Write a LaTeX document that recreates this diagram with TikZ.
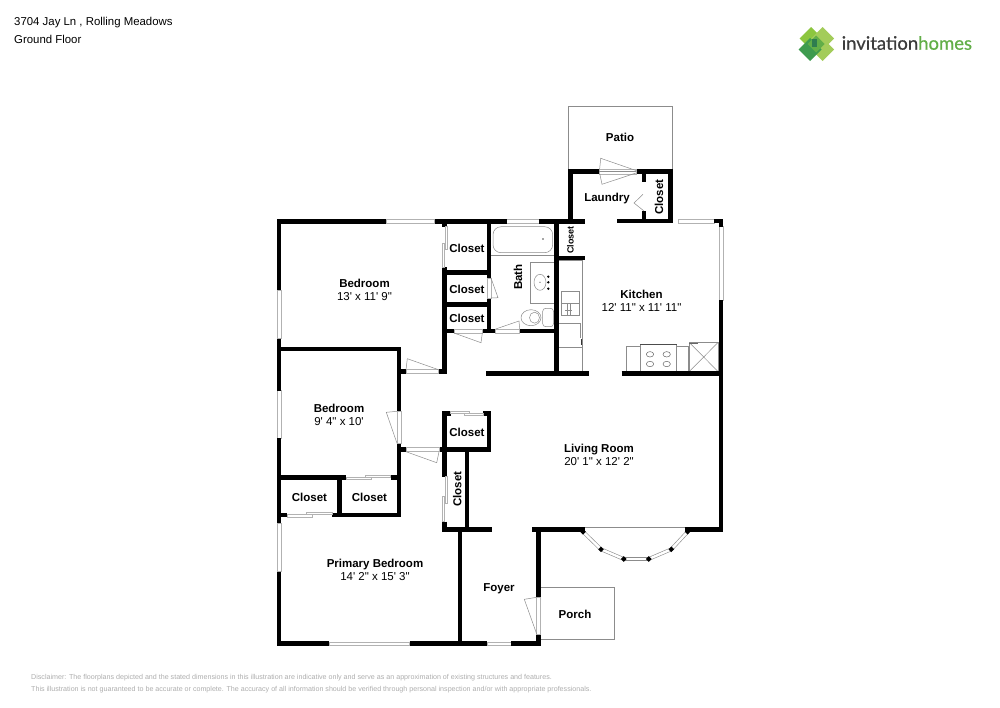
\documentclass[tikz,border=0pt]{standalone}
\usepackage{fontspec}
\setmainfont{Liberation Sans}[Ligatures=TeXOff]
\newfontfamily\logofont{Lato}[RawFeature={embolden=0.5}]
\usepackage{tikz}
\definecolor{thinline}{gray}{0.55}
\definecolor{glassline}{gray}{0.7}
\definecolor{notegrey}{gray}{0.68}
\definecolor{limeleaf}{HTML}{8CC63F}
\definecolor{limepale}{HTML}{A3CC5A}
\definecolor{darkleaf}{HTML}{3E9B4F}
\definecolor{midleaf}{HTML}{62AE48}
\definecolor{coreleaf}{HTML}{2F7D4F}
\definecolor{logogrey}{HTML}{3C3C3C}
\tikzstyle{wall} = [line width=4.6pt, black, line join=miter]
\tikzstyle{thinwall} = [line width=.6pt, draw=thinline]
\tikzstyle{glass} = [line width=.6pt, draw=glassline, fill=white]
\tikzstyle{leaf} = [line width=.5pt, draw=thinline]
\tikzstyle{fixture} = [line width=.5pt, draw=thinline, fill=white]
\tikzstyle{baypane} = [line width=.6pt, draw=thinline, double=white, double distance=2.4pt]
\tikzstyle{roomlabel} = [font=\fontsize{11.5}{12.8}\selectfont, align=center, inner sep=0pt]
\tikzstyle{tinylabel} = [font=\fontsize{11.5}{13}\selectfont\bfseries, inner sep=0pt]
\tikzstyle{sidelabel} = [tinylabel, rotate=90]
\tikzstyle{headline} = [font=\fontsize{11.4}{13}\selectfont, anchor=base west, inner sep=0pt]
\tikzstyle{noteline} = [font=\fontsize{7.12}{8}\selectfont, text=notegrey, anchor=west, inner sep=0pt]

\begin{document}
\begin{tikzpicture}[x=1pt, y=-1pt]
\useasboundingbox (0,0) rectangle (1000,707);

% patio and porch
\draw [thinwall] (568.3,169.7) -- (568.3,106.7) -- (672.3,106.7) -- (672.3,169.7);
\draw [thinwall] (540.7,587.3) -- (614.7,587.3) -- (614.7,639.3) -- (540.7,639.3);

% fixtures
\draw [fixture, rounded corners=8pt] (493,226.7) rectangle (552.7,252.7);
\fill [black!70] (543,239) circle (.8pt);
\draw [leaf] (491,255) -- (554,255);
\draw [fixture] (530,262.7) rectangle (554,303.3);
\draw [leaf] (540,282.3) ellipse (6pt and 8pt);
\foreach \py in {276.7,282.3,288.7}
  \fill [black] (548.3,\py) circle (1.3pt);
\fill [black!70] (540,282.3) circle (.6pt);
\draw [fixture, rounded corners=3pt] (542.7,308.3) rectangle (553.5,326.7);
\draw [fixture] (531,317.7) ellipse (10pt and 8pt);
\draw [leaf] (534.5,317.7) ellipse (5pt and 5.5pt);

\draw [leaf] (558.7,260) -- (582.3,260) -- (582.3,371.5);
\draw [leaf] (558.7,323.3) -- (580.7,323.3) -- (580.7,338);
\draw [leaf] (558.7,347.3) -- (582.3,347.3);
\draw [fixture] (561.7,291.3) rectangle (579.7,315.7);
\draw [leaf] (561.7,303.3) -- (579.7,303.3);
\draw [leaf] (567,303.3) -- (567,315.7) (570.7,303.3) -- (570.7,315.7) (565,310) -- (572,310);
\fill [black!80] (580.6,338.5) rectangle (582.3,344.5);

\draw [fixture] (626.7,346.7) rectangle (688,371.5);
\draw [fixture] (640,344) rectangle (676.7,371.5);
\draw [line width=.8pt, black!70] (640,344.3) -- (676.7,344.3);
\foreach \px in {650,666.7}
  \foreach \py in {354.3,364}
    \draw [leaf, black!60] (\px,\py) ellipse (3.7pt and 2.7pt);
\draw [fixture] (689.3,342.5) rectangle (718,371.5);
\draw [leaf] (689.3,342.5) -- (718,371.5) (718,342.5) -- (689.3,371.5);
\draw [line width=.8pt, black!60] (689.3,343) -- (698,343);

% windows
\draw [glass] (386,219.7) rectangle (434.7,223.3);
\draw [glass] (506.7,219.7) rectangle (539.3,223.3);
\draw [glass] (678.3,219.2) rectangle (714.3,222.8);
\draw [glass] (719.2,226) rectangle (722.8,300);
\draw [glass] (277.2,290) rectangle (280.8,338.5);
\draw [glass] (277.2,390.7) rectangle (280.8,438.3);
\draw [glass] (277.2,523.3) rectangle (280.8,571.7);
\draw [glass] (329,641.9) rectangle (409.5,645.5);
\draw [glass] (487,641.9) rectangle (511.3,645.5);
\draw [leaf] (585,527.5) -- (685.3,527.5);

% bay window
\draw [baypane] (583,531.7) -- (601,549.3);
\draw [baypane] (601,549.3) -- (623.7,559);
\draw [baypane] (623.7,559) -- (648.7,559);
\draw [baypane] (648.7,559) -- (671.3,549.3);
\draw [baypane] (671.3,549.3) -- (687.7,531.7);
\foreach \px/\py in {583/531.7, 601/549.3, 623.7/559, 648.7/559, 671.3/549.3, 687.7/531.7}
  \fill [shift={(\px,\py)}] (-2.8,0) -- (0,-2.8) -- (2.8,0) -- (0,2.8) -- cycle;

% walls
\draw [wall] (279,290) -- (279,221.5) -- (386,221.5);
\draw [wall] (434.7,221.5) -- (506.7,221.5);
\draw [wall] (539.3,221.5) -- (585,221.5);
\draw [wall] (279,338.5) -- (279,390.7);
\draw [wall] (279,438.3) -- (279,523.3);
\draw [wall] (279,571.7) -- (279,643.7) -- (329,643.7);
\draw [wall] (409.5,643.7) -- (487,643.7);
\draw [wall] (511.3,643.7) -- (538.7,643.7) -- (538.7,634);
\draw [wall] (538.7,597.3) -- (538.7,527.3);
\draw [wall] (532.3,529.5) -- (585,529.5);
\draw [wall] (685.3,529.5) -- (721,529.5) -- (721,300);
\draw [wall] (617.3,221) -- (670.5,221) -- (670.5,171.7) -- (636,171.7);
\draw [wall] (599.3,171.7) -- (570.3,171.7) -- (570.3,221);
\draw [wall] (644,171.7) -- (644,181.7);
\draw [wall] (644,211) -- (644,221);
\draw [wall] (714.3,221) -- (721,221) -- (721,226.7);

\draw [wall] (444.7,221.5) -- (444.7,226.5);
\draw [wall] (444.7,267) -- (444.7,373.9);
\draw [wall] (438.5,371.7) -- (446.9,371.7);
\draw [wall] (489,221.5) -- (489,278);
\draw [wall] (489,298) -- (489,331);
\draw [wall] (444.7,272.7) -- (489,272.7);
\draw [wall] (444.7,304.3) -- (489,304.3);
\draw [wall] (444.7,331) -- (454,331);
\draw [wall] (482.3,331) -- (495.7,331);
\draw [wall] (519.7,331) -- (556.3,331);
\draw [wall] (556.3,221) -- (556.3,373.7);
\draw [wall] (556.3,258) -- (585,258);
\draw [wall] (486.3,373.7) -- (589,373.7);
\draw [wall] (621.7,373.7) -- (723.3,373.7);

\draw [wall] (279,349) -- (399,349) -- (399,411.3);
\draw [wall] (399,443.3) -- (399,517);
\draw [wall] (399,371.7) -- (406,371.7);
\draw [wall] (399,449.7) -- (406,449.7);
\draw [wall] (439,449.7) -- (491,449.7);
\draw [wall] (279,477.3) -- (346,477.3);
\draw [wall] (390.7,477.3) -- (399,477.3);
\draw [wall] (339.7,477.3) -- (339.7,517);
\draw [wall] (279,514.8) -- (287.3,514.8);
\draw [wall] (332,514.8) -- (401.2,514.8);
\draw [wall] (451,413.3) -- (444.7,413.3) -- (444.7,476.7);
\draw [wall] (483,413.3) -- (489,413.3) -- (489,449.7);
\draw [wall] (467,449.7) -- (467,529.5);
\draw [wall] (444.7,521.7) -- (444.7,529.5) -- (491.7,529.5);
\draw [wall] (460,529.5) -- (460,643.7);

% doors
\draw [glass] (406,369.7) rectangle (438.5,373.7);
\draw [leaf] (406,369.7) -- (407.3,358.7) -- (438.5,369.7);
\draw [glass] (397,411.3) rectangle (401,443.3);
\draw [leaf] (397,411.3) -- (386.3,412.3) -- (397,443.3);
\draw [glass] (406,447.7) rectangle (439,451.7);
\draw [leaf] (406,451.7) -- (436.7,462.7) -- (439,451.7);
\draw [glass] (454,329) rectangle (482.3,333);
\draw [leaf] (454,333) -- (481,342.7) -- (482.3,333);
\draw [glass] (495.7,329) rectangle (519.7,333);
\draw [leaf] (495.7,329) -- (519,321) -- (519.7,329);
\draw [glass] (487,278) rectangle (491,298);
\draw [leaf] (491,278) -- (498,297.7) -- (491,298);
\draw [glass] (536.7,597.3) rectangle (540.7,634);
\draw [leaf] (536.7,597.3) -- (524.3,599.3) -- (536.7,634);
\draw [glass] (599.3,169.6) rectangle (636,173.8);
\draw [leaf] (599.6,169.6) -- (600.7,158.3) -- (636,170.5);
\draw [leaf] (599.8,173.8) -- (602,184.3) -- (636,173);
\draw [leaf] (599.3,171.7) -- (636,171.7);
\draw [leaf] (643,194.3) -- (634,203) -- (644,211);

% sliding closet doors
\draw [glass] (445.3,226.5) rectangle (447,249);
\draw [glass] (442.5,243) rectangle (444.3,267);
\draw [glass] (450.3,411.3) rectangle (469.3,413);
\draw [glass] (464.3,413.2) rectangle (483.3,415.3);
\draw [glass] (445.3,476.7) rectangle (447,503.3);
\draw [glass] (442.7,496) rectangle (444.3,521.7);
\draw [glass] (346,477.7) rectangle (371.7,479.7);
\draw [glass] (365,475) rectangle (390.7,477.3);
\draw [glass] (287.3,514.7) rectangle (312.7,517);
\draw [glass] (306.7,512.7) rectangle (332,514.7);

% rooms
\node (bedroomone) [roomlabel] at (364.5,289.5) {\textbf{Bedroom}\\13' x 11' 9"};
\node (bedroomtwo) [roomlabel] at (339,414.5) {\textbf{Bedroom}\\9' 4" x 10'};
\node (primary) [roomlabel] at (375,570) {\textbf{Primary Bedroom}\\14' 2" x 15' 3"};
\node (kitchen) [roomlabel] at (641.5,300.5) {\textbf{Kitchen}\\12' 11" x 11' 11"};
\node (living) [roomlabel] at (599,455) {\textbf{Living Room}\\20' 1" x 12' 2"};

\node (closeta) [tinylabel] at (467,248) {Closet};
\node (closetb) [tinylabel] at (467,289.3) {Closet};
\node (closetc) [tinylabel] at (467,318.5) {Closet};
\node (closetd) [tinylabel] at (467,432.3) {Closet};
\node (closete) [tinylabel] at (309.5,497) {Closet};
\node (closetf) [tinylabel] at (369.5,497) {Closet};
\node (closetg) [sidelabel] at (457.3,489) {Closet};
\node (closeth) [sidelabel] at (659,197) {Closet};
\node (closeti) [sidelabel, font=\fontsize{9}{10}\selectfont\bfseries] at (570.5,240) {Closet};
\node (bath) [sidelabel] at (518,277) {Bath};
\node (laundry) [tinylabel] at (607,199) {Laundry};
\node (patio) [tinylabel] at (620,137) {Patio};
\node (foyer) [tinylabel] at (499,588.5) {Foyer};
\node (porch) [tinylabel] at (575,614) {Porch};

% header and footer
\node (street) [headline] at (14,25.8) {3704 Jay Ln , Rolling Meadows};
\node (floor) [headline] at (14,43.3) {Ground Floor};
\node (notea) [noteline] at (31,678) {Disclaimer: The floorplans depicted and the stated dimensions in this illustration are indicative only and serve as an approximation of existing structures and features.};
\node (noteb) [noteline] at (31,690) {This illustration is not guaranteed to be accurate or complete. The accuracy of all information should be verified through personal inspection and/or with appropriate professionals.};

% logo
\foreach \px/\py/\leafcolor in {811/38.5/limeleaf, 822.5/38.5/limepale, 822.5/49.5/limepale, 810/49.5/darkleaf}
  \fill [\leafcolor, shift={(\px,\py)}] (-11.5,0) -- (0,-11.5) -- (11.5,0) -- (0,11.5) -- cycle;
\fill [midleaf, shift={(816,44)}] (-8.5,0) -- (0,-8.5) -- (8.5,0) -- (0,8.5) -- cycle;
\fill [coreleaf] (811.7,39) rectangle (817,46.5);
\node (logoa) [font=\logofont\fontsize{18.5}{20}\selectfont, text=logogrey, anchor=west, inner sep=0pt] at (841.5,43) {invitation};
\node (logob) [font=\logofont\fontsize{18.5}{20}\selectfont, text=midleaf, anchor=west, inner sep=0pt] at (918,43) {homes};

\end{tikzpicture}
\end{document}
